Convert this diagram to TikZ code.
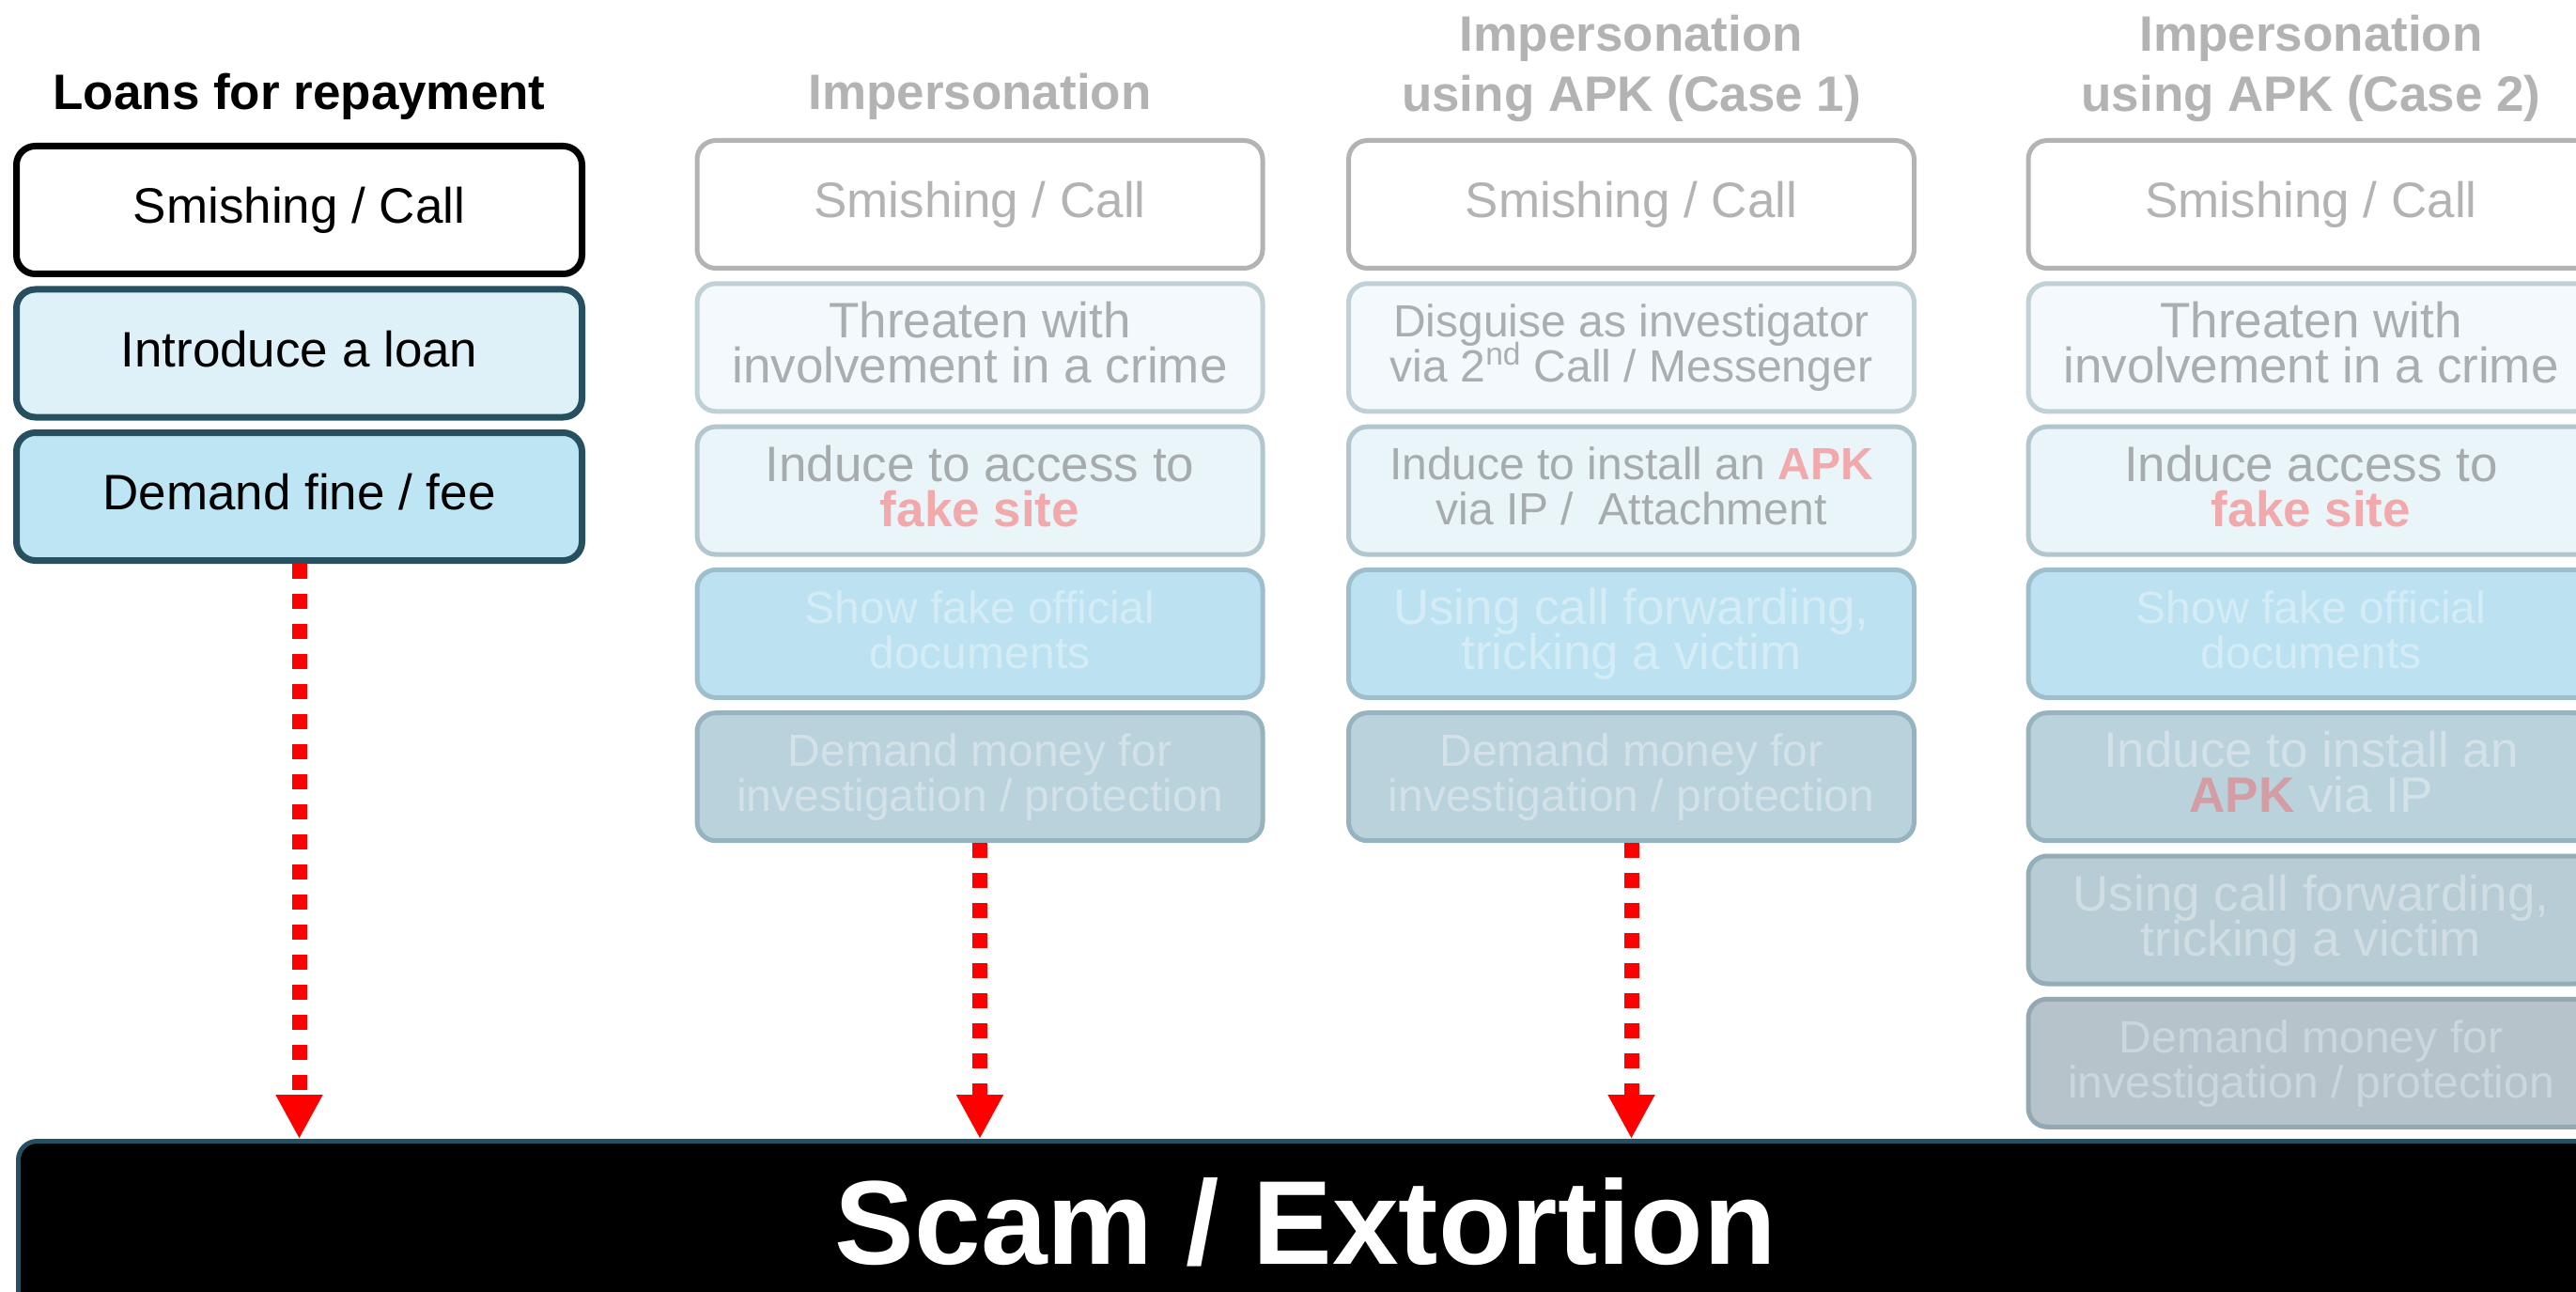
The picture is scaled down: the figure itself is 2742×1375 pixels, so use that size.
\documentclass[tikz,border=0pt]{standalone}
\usepackage{fontspec}
\setmainfont{Liberation Sans}
\usetikzlibrary{arrows.meta}
\newcommand\ST{\rule[-0.22em]{0pt}{0.97em}}
\newcommand\fbx{\fontsize{26.5pt}{24pt}\selectfont\lineskiplimit=-\maxdimen\lineskip=0pt}
\newcommand\fsm{\fontsize{24pt}{24pt}\selectfont\lineskiplimit=-\maxdimen\lineskip=0pt}
\newcommand\fti{\fontsize{26.5pt}{31.75pt}\selectfont\bfseries\lineskiplimit=-\maxdimen\lineskip=0pt}
\newcommand\fsc{\fontsize{63.5pt}{70pt}\selectfont\bfseries}
\definecolor{dteal}{HTML}{26505F}
\definecolor{fgray}{HTML}{B3B3B3}
\definecolor{cIntro}{HTML}{DEF1F9}
\definecolor{cDem}{HTML}{BDE5F3}
\definecolor{bB}{HTML}{BFD0D7}\definecolor{fB}{HTML}{F3F9FC}\definecolor{tB}{HTML}{A9AEB0}
\definecolor{bC}{HTML}{B2C6CE}\definecolor{fC}{HTML}{EAF5FA}\definecolor{tC}{HTML}{A6ACAE}
\definecolor{bD}{HTML}{9EBECB}\definecolor{fD}{HTML}{BCE2F1}\definecolor{tD}{HTML}{D4ECF5}
\definecolor{bE}{HTML}{97B3BF}\definecolor{fE}{HTML}{B9D2DB}\definecolor{tE}{HTML}{D2E2E8}
\definecolor{bF}{HTML}{94AEB9}\definecolor{fF}{HTML}{B8CCD5}\definecolor{tF}{HTML}{D0DEE4}
\definecolor{bG}{HTML}{93A8B2}\definecolor{fG}{HTML}{B6C3CA}\definecolor{tG}{HTML}{CCD7DC}
\definecolor{pinkA}{HTML}{F1A9AB}
\definecolor{pinkB}{HTML}{D49CA3}
\begin{document}
\begin{tikzpicture}[x=0.5pt,y=-0.5pt,
  box/.style={rectangle, rounded corners=10pt, minimum width=301pt, minimum height=68pt,
    inner sep=0pt, align=center, font=\fbx},
  strong/.style={box, line width=3.5pt},
  faded/.style={box, line width=2.5pt},
  small/.style={font=\fsm},
  sA/.style={strong, draw=black, fill=white, text=black},
  sB/.style={strong, draw=dteal, fill=cIntro, text=black},
  sC/.style={strong, draw=dteal, fill=cDem, text=black},
  fA/.style={faded, draw=fgray, fill=white, text=fgray},
  fB/.style={faded, draw=bB, fill=fB, text=tB},
  fC/.style={faded, draw=bC, fill=fC, text=tC},
  fD/.style={faded, draw=bD, fill=fD, text=tD},
  fE/.style={faded, draw=bE, fill=fE, text=tE},
  fF/.style={faded, draw=bF, fill=fF, text=tF},
  fG/.style={faded, draw=bG, fill=fG, text=tG},
  title/.style={inner sep=0pt, align=center, font=\fti},
  bar/.style={rectangle, rounded corners=10pt, draw=dteal, line width=2.5pt, fill=black,
    text=white, font=\fsc, minimum width=1370.5pt, minimum height=97.8pt, inner sep=0pt},
  redarr/.style={draw=red, line width=8pt, dash pattern=on 8pt off 8pt,
    -{Triangle[length=23.5pt,width=23.5pt]}}
]
\clip (0,0) rectangle (2742,1375);
\fill[white] (0,0) rectangle (2742,1375);

% titles
\node[title, text=black] (t1) at (318.5,102) {\ST Loans for repayment};
\node[title, text=fgray] (t2) at (1043,102) {\ST Impersonation};
\node[title, text=fgray] (t3) at (1736.5,72.7) {\ST Impersonation\\\ST using APK (Case 1)};
\node[title, text=fgray] (t4) at (2460,72.7) {\ST Impersonation\\\ST using APK (Case 2)};

% column 1
\node[sA] (a1) at (318.5,223.5) {\ST Smishing / Call};
\node[sB] (a2) at (318.5,376) {\ST Introduce a loan};
\node[sC] (a3) at (318.5,528.5) {\ST Demand fine / fee};

% column 2
\node[fA] (b1) at (1043,217.5) {\ST Smishing / Call};
\node[fB] (b2) at (1043,369.8) {\ST Threaten with\\\ST involvement in a crime};
\node[fC] (b3) at (1043,522.1) {\ST Induce to access to\\\ST\textbf{\textcolor{pinkA}{fake site}}};
\node[fD, small] (b4) at (1043,674.4) {\ST Show fake official\\\ST documents};
\node[fE, small] (b5) at (1043,826.7) {\ST Demand money for\\\ST investigation / protection};

% column 3
\node[fA] (c1) at (1736.5,217.5) {\ST Smishing / Call};
\node[fB, small] (c2) at (1736.5,369.8) {\ST Disguise as investigator\\\ST via 2\textsuperscript{nd} Call / Messenger};
\node[fC, small] (c3) at (1736.5,522.1) {\ST Induce to install an \textbf{\textcolor{pinkA}{APK}}\\\ST via IP /\ \ Attachment};
\node[fD] (c4) at (1736.5,674.4) {\ST Using call forwarding,\\\ST tricking a victim};
\node[fE, small] (c5) at (1736.5,826.7) {\ST Demand money for\\\ST investigation / protection};

% column 4
\node[fA] (d1) at (2460,217.5) {\ST Smishing / Call};
\node[fB] (d2) at (2460,369.8) {\ST Threaten with\\\ST involvement in a crime};
\node[fC] (d3) at (2460,522.1) {\ST Induce access to\\\ST\textbf{\textcolor{pinkA}{fake site}}};
\node[fD, small] (d4) at (2460,674.4) {\ST Show fake official\\\ST documents};
\node[fE] (d5) at (2460,826.7) {\ST Induce to install an\\\ST\textbf{\textcolor{pinkB}{APK}} via IP};
\node[fF] (d6) at (2460,979) {\ST Using call forwarding,\\\ST tricking a victim};
\node[fG, small] (d7) at (2460,1131.3) {\ST Demand money for\\\ST investigation / protection};

% bottom bar
\node[bar] (scam) at (1390,1312.3) {\ST Scam / Extortion};

% arrows
\draw[redarr] (a3.south) -- (a3.south |- scam.north);
\draw[redarr] (b5.south) -- (b5.south |- scam.north);
\draw[redarr] (c5.south) -- (c5.south |- scam.north);
\end{tikzpicture}
\end{document}
